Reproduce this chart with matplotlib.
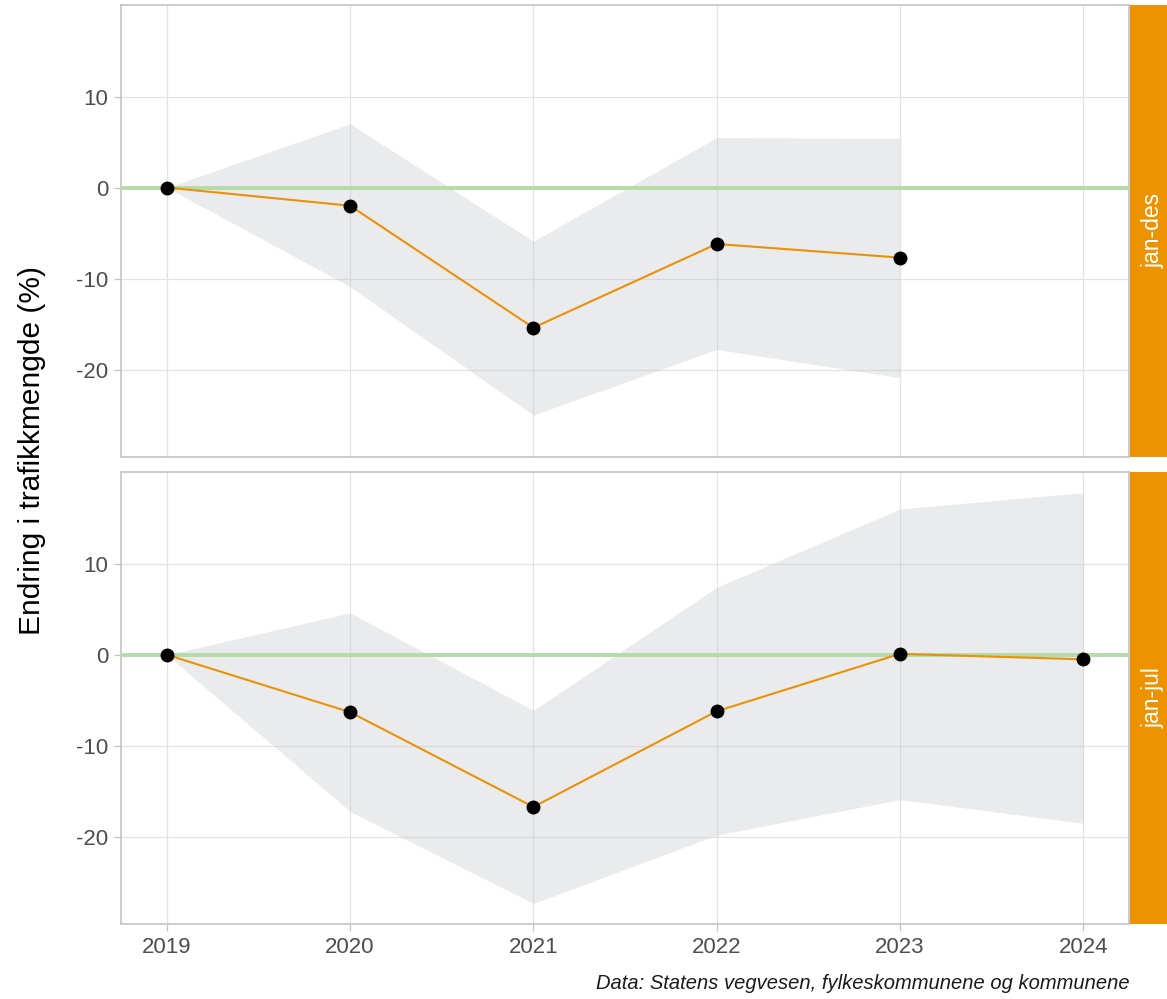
import matplotlib.pyplot as plt

# data
years = [2019, 2020, 2021, 2022, 2023, 2024]

# jan-des panel (no 2024 value)
des_years = years[:5]
des_change = [0.0, -2.0, -15.4, -6.2, -7.7]
des_upper = [0.0, 7.0, -5.9, 5.5, 5.4]
des_lower = [0.0, -10.9, -25.0, -17.8, -20.9]

# jan-jul panel
jul_years = years
jul_change = [0.0, -6.3, -16.7, -6.2, 0.1, -0.5]
jul_upper = [0.0, 4.6, -6.1, 7.4, 16.0, 17.8]
jul_lower = [0.0, -17.2, -27.3, -19.8, -15.9, -18.5]

panels = ["jan-des", "jan-jul"]
caption = "Data: Statens vegvesen, fylkeskommunene og kommunene"
ylabel = "Endring i trafikkmengde (%)"

plt.rcParams['font.family'] = ['Liberation Sans', 'DejaVu Sans']

orange = '#EA9107'
strip_col = '#ED9200'
ribbon_col = '#BCC0C6'
green = '#B4DBA8'

fig = plt.figure(figsize=(11.67, 9.99), dpi=100)
ax_top = fig.add_axes([0.1037, 0.543, 0.8638, 0.452])
ax_bot = fig.add_axes([0.1037, 0.075, 0.8638, 0.4525])

series = [(ax_top, des_years, des_change, des_upper, des_lower),
          (ax_bot, jul_years, jul_change, jul_upper, jul_lower)]

for i, (ax, x, y, up, lo) in enumerate(series):
    ax.fill_between(x, lo, up, color=ribbon_col, alpha=0.3, linewidth=0, zorder=2)
    ax.axhline(0, color=green, linewidth=2.8, zorder=3)
    ax.plot(x, y, color=orange, linewidth=1.5, zorder=4)
    ax.plot(x, y, 'o', color='black', markersize=9, zorder=5)

    ax.set_xlim(2018.75, 2024.25)
    ax.set_ylim(-29.56, 20.06)
    ax.set_xticks(years)
    ax.set_yticks([-20, -10, 0, 10])
    ax.set_yticklabels(['-20', '-10', '0', '10'])
    ax.grid(True, color='#E3E3E3', linewidth=0.9, zorder=0)
    ax.set_axisbelow(True)
    for s in ax.spines.values():
        s.set_color('#C4C4C4')
        s.set_linewidth(1.2)
    ax.tick_params(axis='both', colors='#C4C4C4', labelcolor='#4D4D4D',
                   labelsize=16, length=5, width=0.9, pad=4)
    if i == 0:
        ax.tick_params(axis='x', labelbottom=False, length=0)

    # facet strip on the right
    pos = ax.get_position()
    strip = fig.add_axes([pos.x1 + 0.0008, pos.y0, 0.04, pos.height])
    strip.set_facecolor(strip_col)
    strip.set_xticks([])
    strip.set_yticks([])
    for s in strip.spines.values():
        s.set_visible(False)
    strip.text(0.5, 0.5, panels[i], rotation=90, ha='center', va='center',
               color='white', fontsize=16.5, transform=strip.transAxes)

fig.text(0.027, 0.549, ylabel, rotation=90, ha='center', va='center',
         fontsize=21.5, color='black')
fig.text(0.968, 0.016, caption, ha='right', va='center', fontsize=14.5,
         style='italic', color='#1A1A1A')

fig.savefig('out.png', dpi=100)
